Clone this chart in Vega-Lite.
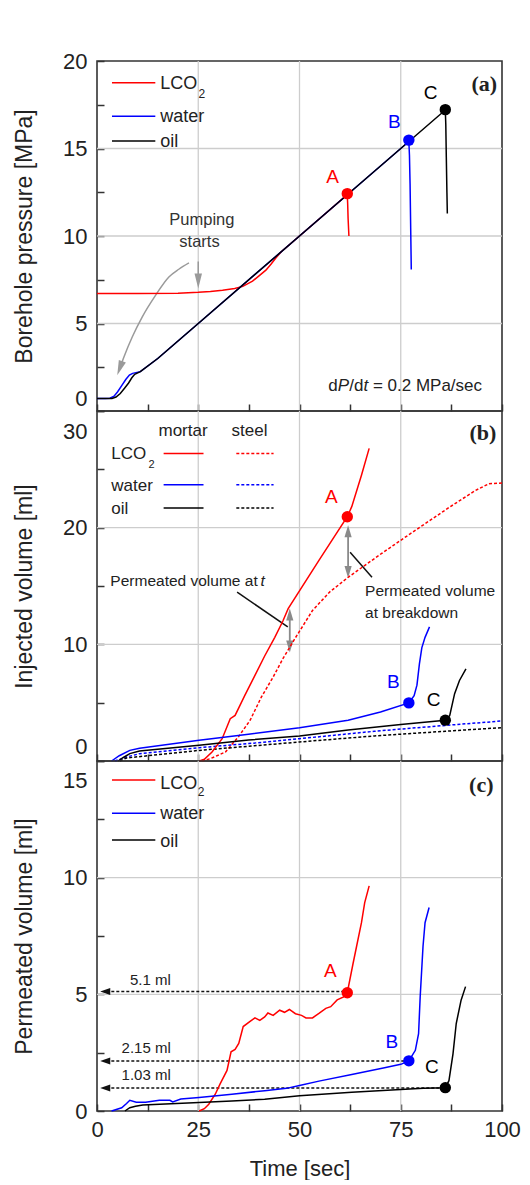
{
  "$schema": "https://vega.github.io/schema/vega-lite/v6.json",
  "padding": {"left": 12, "top": 49, "right": 0, "bottom": 0},
  "spacing": 0,
  "bounds": "flush",
  "config": {
    "font": "Liberation Sans",
    "view": {"stroke": "#333", "strokeWidth": 1.6},
    "axis": {"labelFont": "Liberation Sans", "labelFontSize": 22, "labelColor": "#222", "titleFont": "Liberation Sans", "titleFontWeight": "normal", "titleColor": "#222", "domain": false, "grid": false, "zindex": 1, "tickColor": "#333", "tickWidth": 1.5, "labelFlush": false, "labelOverlap": false}
  },
  "datasets": {
    "a_grid": [
      {"t":25,"t2":25,"v":0,"v2":20},{"t":50,"t2":50,"v":0,"v2":20},{"t":75,"t2":75,"v":0,"v2":20},
      {"t":0,"t2":100,"v":5,"v2":5},{"t":0,"t2":100,"v":10,"v2":10},{"t":0,"t2":100,"v":15,"v2":15}
    ],
    "b_grid": [
      {"t":25,"t2":25,"v":0,"v2":30},{"t":50,"t2":50,"v":0,"v2":30},{"t":75,"t2":75,"v":0,"v2":30},
      {"t":0,"t2":100,"v":10,"v2":10},{"t":0,"t2":100,"v":20,"v2":20}
    ],
    "c_grid": [
      {"t":25,"t2":25,"v":0,"v2":15},{"t":50,"t2":50,"v":0,"v2":15},{"t":75,"t2":75,"v":0,"v2":15},
      {"t":0,"t2":100,"v":5,"v2":5},{"t":0,"t2":100,"v":10,"v2":10}
    ],
    "a_line": [
      {"f":"LCO2","t":0,"v":6.71},{"f":"LCO2","t":10,"v":6.71},{"f":"LCO2","t":20,"v":6.73},{"f":"LCO2","t":25,"v":6.78},{"f":"LCO2","t":28,"v":6.83},{"f":"LCO2","t":31,"v":6.9},{"f":"LCO2","t":34,"v":7.0},{"f":"LCO2","t":36,"v":7.12},{"f":"LCO2","t":38.4,"v":7.42},{"f":"LCO2","t":40,"v":7.72},{"f":"LCO2","t":41.7,"v":8.05},{"f":"LCO2","t":43,"v":8.4},{"f":"LCO2","t":44.2,"v":8.76},{"f":"LCO2","t":45.5,"v":9.1},{"f":"LCO2","t":47,"v":9.4},{"f":"LCO2","t":50,"v":10.0},{"f":"LCO2","t":55,"v":11.0},{"f":"LCO2","t":61.8,"v":12.36},{"f":"LCO2","t":61.9,"v":11.8},{"f":"LCO2","t":62.0,"v":11.0},{"f":"LCO2","t":62.2,"v":10.0},
      {"f":"water","t":0,"v":0.71},{"f":"water","t":2,"v":0.71},{"f":"water","t":3.2,"v":0.73},{"f":"water","t":4.2,"v":0.85},{"f":"water","t":5.1,"v":1.1},{"f":"water","t":6.1,"v":1.45},{"f":"water","t":7.1,"v":1.8},{"f":"water","t":8.0,"v":2.05},{"f":"water","t":8.8,"v":2.15},{"f":"water","t":10.7,"v":2.25},{"f":"water","t":15,"v":3.0},{"f":"water","t":25,"v":5.0},{"f":"water","t":50,"v":10.0},{"f":"water","t":77.0,"v":15.4},{"f":"water","t":77.15,"v":14.6},{"f":"water","t":77.3,"v":13.0},{"f":"water","t":77.45,"v":10.5},{"f":"water","t":77.6,"v":8.08},
      {"f":"oil","t":0,"v":0.71},{"f":"oil","t":3.7,"v":0.72},{"f":"oil","t":4.7,"v":0.8},{"f":"oil","t":5.75,"v":1.0},{"f":"oil","t":6.8,"v":1.3},{"f":"oil","t":7.8,"v":1.6},{"f":"oil","t":8.6,"v":1.9},{"f":"oil","t":9.3,"v":2.1},{"f":"oil","t":10.7,"v":2.25},{"f":"oil","t":15,"v":3.0},{"f":"oil","t":25,"v":5.0},{"f":"oil","t":50,"v":10.0},{"f":"oil","t":86.0,"v":17.2},{"f":"oil","t":86.12,"v":16.4},{"f":"oil","t":86.25,"v":14.5},{"f":"oil","t":86.4,"v":12.5},{"f":"oil","t":86.5,"v":11.28}
    ],
    "a_pts": [
      {"f":"LCO2","t":61.8,"v":12.42},
      {"f":"water","t":77.0,"v":15.48},
      {"f":"oil","t":86.0,"v":17.22}
    ],
    "a_lbl": [
      {"f":"LCO2","t":58.2,"v":13.4,"s":"A"},
      {"f":"water","t":73.4,"v":16.5,"s":"B"},
      {"f":"oil","t":82.4,"v":18.16,"s":"C"}
    ],
    "a_leg": [
      {"f":"LCO2","t":3.7,"t2":14.4,"v":18.76},
      {"f":"water","t":3.7,"t2":14.4,"v":16.84},
      {"f":"oil","t":3.7,"t2":14.4,"v":15.43}
    ],
    "a_txt": [
      {"k":"leg","t":15.6,"v":18.66,"s":"LCO"},
      {"k":"leg","t":15.6,"v":16.8,"s":"water"},
      {"k":"leg","t":15.6,"v":15.37,"s":"oil"},
      {"k":"sub","t":25.9,"v":18.13,"s":"2"},
      {"k":"tag","t":98.8,"v":18.66,"s":"(a)"},
      {"k":"note","t":25.9,"v":10.94,"s":"Pumping"},
      {"k":"note","t":25.3,"v":9.66,"s":"starts"},
      {"k":"dp","t":57.11,"v":1.43,"s":"d"},
      {"k":"dpi","t":59.46,"v":1.43,"s":"P"},
      {"k":"dp","t":62.27,"v":1.43,"s":"/d"},
      {"k":"dpi","t":65.78,"v":1.43,"s":"t"},
      {"k":"dp","t":68.12,"v":1.43,"s":"= 0.2 MPa/sec"}
    ],
    "a_arrow_curve": [
      {"t":22.7,"v":8.46},{"t":20.2,"v":8.1},{"t":17.75,"v":7.66},{"t":14.45,"v":6.61},{"t":11.15,"v":5.37},{"t":8.7,"v":4.23},{"t":6.65,"v":3.09},{"t":5.63,"v":2.44}
    ],
    "a_arrow_straight": [{"t":25,"v":8.55,"v2":7.45}],
    "a_head_down": [{"t":25,"v":7.43}],
    "a_head_curve": [{"t":5.63,"v":2.44}],
    "b_line": [
      {"f":"LCO2","m":"steel","t":25.9,"v":0},{"f":"LCO2","m":"steel","t":28,"v":0.2},{"f":"LCO2","m":"steel","t":31.7,"v":0.77},{"f":"LCO2","m":"steel","t":34.9,"v":2.06},{"f":"LCO2","m":"steel","t":37.8,"v":3.49},{"f":"LCO2","m":"steel","t":40.6,"v":5.49},{"f":"LCO2","m":"steel","t":43.5,"v":7.2},{"f":"LCO2","m":"steel","t":45.9,"v":8.77},{"f":"LCO2","m":"steel","t":48.6,"v":10.34},{"f":"LCO2","m":"steel","t":53.2,"v":12.9},{"f":"LCO2","m":"steel","t":57.5,"v":14.5},{"f":"LCO2","m":"steel","t":62.1,"v":15.77},{"f":"LCO2","m":"steel","t":70.2,"v":17.77},{"f":"LCO2","m":"steel","t":77.4,"v":19.49},{"f":"LCO2","m":"steel","t":87.1,"v":21.77},{"f":"LCO2","m":"steel","t":93.5,"v":23.2},{"f":"LCO2","m":"steel","t":96.8,"v":23.77},{"f":"LCO2","m":"steel","t":100,"v":23.83},
      {"f":"water","m":"steel","t":4.4,"v":0},{"f":"water","m":"steel","t":7.3,"v":0.34},{"f":"water","m":"steel","t":10.5,"v":0.63},{"f":"water","m":"steel","t":25.2,"v":1.14},{"f":"water","m":"steel","t":37.4,"v":1.49},{"f":"water","m":"steel","t":50,"v":1.91},{"f":"water","m":"steel","t":68.5,"v":2.55},{"f":"water","m":"steel","t":86,"v":3.05},{"f":"water","m":"steel","t":100,"v":3.43},
      {"f":"oil","m":"steel","t":5.65,"v":0},{"f":"oil","m":"steel","t":7.3,"v":0.26},{"f":"oil","m":"steel","t":25.2,"v":0.91},{"f":"oil","m":"steel","t":37.4,"v":1.26},{"f":"oil","m":"steel","t":50,"v":1.63},{"f":"oil","m":"steel","t":68.5,"v":2.15},{"f":"oil","m":"steel","t":86,"v":2.55},{"f":"oil","m":"steel","t":100,"v":2.86},
      {"f":"LCO2","m":"mortar","t":25.3,"v":0},{"f":"LCO2","m":"mortar","t":26.5,"v":0.15},{"f":"LCO2","m":"mortar","t":28.4,"v":0.77},{"f":"LCO2","m":"mortar","t":30.9,"v":1.91},{"f":"LCO2","m":"mortar","t":32.9,"v":3.63},{"f":"LCO2","m":"mortar","t":34.1,"v":3.91},{"f":"LCO2","m":"mortar","t":36.5,"v":5.63},{"f":"LCO2","m":"mortar","t":39,"v":7.34},{"f":"LCO2","m":"mortar","t":41.4,"v":9.0},{"f":"LCO2","m":"mortar","t":43.9,"v":10.6},{"f":"LCO2","m":"mortar","t":45.9,"v":12.0},{"f":"LCO2","m":"mortar","t":47.2,"v":13.06},{"f":"LCO2","m":"mortar","t":54.8,"v":17.2},{"f":"LCO2","m":"mortar","t":61.8,"v":20.94},{"f":"LCO2","m":"mortar","t":62.9,"v":21.8},{"f":"LCO2","m":"mortar","t":65.3,"v":24.5},{"f":"LCO2","m":"mortar","t":67.2,"v":26.8},
      {"f":"water","m":"mortar","t":3.6,"v":0},{"f":"water","m":"mortar","t":5.5,"v":0.45},{"f":"water","m":"mortar","t":8.1,"v":0.91},{"f":"water","m":"mortar","t":10.5,"v":1.1},{"f":"water","m":"mortar","t":25.2,"v":1.77},{"f":"water","m":"mortar","t":37.4,"v":2.29},{"f":"water","m":"mortar","t":50,"v":2.85},{"f":"water","m":"mortar","t":62,"v":3.5},{"f":"water","m":"mortar","t":70,"v":4.2},{"f":"water","m":"mortar","t":77,"v":4.98},{"f":"water","m":"mortar","t":78.3,"v":5.6},{"f":"water","m":"mortar","t":79.0,"v":6.5},{"f":"water","m":"mortar","t":79.6,"v":8.3},{"f":"water","m":"mortar","t":80.2,"v":9.7},{"f":"water","m":"mortar","t":81.0,"v":10.6},{"f":"water","m":"mortar","t":82.1,"v":11.5},
      {"f":"oil","m":"mortar","t":5.2,"v":0},{"f":"oil","m":"mortar","t":6.5,"v":0.3},{"f":"oil","m":"mortar","t":8.1,"v":0.63},{"f":"oil","m":"mortar","t":10.5,"v":0.86},{"f":"oil","m":"mortar","t":25.2,"v":1.34},{"f":"oil","m":"mortar","t":37.4,"v":1.8},{"f":"oil","m":"mortar","t":50,"v":2.15},{"f":"oil","m":"mortar","t":62,"v":2.65},{"f":"oil","m":"mortar","t":75,"v":3.13},{"f":"oil","m":"mortar","t":86,"v":3.5},{"f":"oil","m":"mortar","t":87.1,"v":3.9},{"f":"oil","m":"mortar","t":88.3,"v":5.77},{"f":"oil","m":"mortar","t":89.5,"v":6.9},{"f":"oil","m":"mortar","t":91.1,"v":7.9}
    ],
    "b_pts": [
      {"f":"LCO2","t":61.8,"v":20.94},
      {"f":"water","t":77.0,"v":4.98},
      {"f":"oil","t":86.0,"v":3.5}
    ],
    "b_lbl": [
      {"f":"LCO2","t":57.85,"v":22.6,"s":"A"},
      {"f":"water","t":73.2,"v":6.78,"s":"B"},
      {"f":"oil","t":83.1,"v":5.2,"s":"C"}
    ],
    "b_leg": [
      {"f":"LCO2","m":"mortar","t":16.45,"t2":26.3,"v":26.35},
      {"f":"water","m":"mortar","t":16.45,"t2":26.3,"v":23.68},
      {"f":"oil","m":"mortar","t":16.45,"t2":26.3,"v":21.68},
      {"f":"LCO2","m":"steel","t":34.4,"t2":43.6,"v":26.35},
      {"f":"water","m":"steel","t":34.4,"t2":43.6,"v":23.68},
      {"f":"oil","m":"steel","t":34.4,"t2":43.6,"v":21.68}
    ],
    "b_txt": [
      {"k":"hdr","t":21.25,"v":28.29,"s":"mortar"},
      {"k":"hdr","t":37.65,"v":28.29,"s":"steel"},
      {"k":"leg","t":3.53,"v":26.3,"s":"LCO"},
      {"k":"leg","t":3.53,"v":23.59,"s":"water"},
      {"k":"leg","t":3.53,"v":21.6,"s":"oil"},
      {"k":"sub","t":13.5,"v":25.38,"s":"2"},
      {"k":"tag","t":98.6,"v":28.15,"s":"(b)"},
      {"k":"ann","t":3.3,"v":15.4,"s":"Permeated volume at"},
      {"k":"anni","t":40.4,"v":15.4,"s":"t"},
      {"k":"ann","t":66.2,"v":14.57,"s":"Permeated volume"},
      {"k":"ann","t":66.2,"v":12.71,"s":"at breakdown"}
    ],
    "b_shaft": [{"t":62.0,"v":19.69,"v2":16.21},{"t":47.6,"v":12.55,"v2":9.81}],
    "b_up": [{"t":62.0,"v":19.69},{"t":47.6,"v":12.55}],
    "b_down": [{"t":62.0,"v":16.21},{"t":47.6,"v":9.81}],
    "b_leader": [{"t":34.6,"v":14.47,"t2":47.1,"v2":11.5},{"t":62.5,"v":17.9,"t2":67.9,"v2":15.75}],
    "c_line": [
      {"f":"LCO2","t":25.2,"v":0},{"f":"LCO2","t":26.5,"v":0.1},{"f":"LCO2","t":27.6,"v":0.29},{"f":"LCO2","t":29.2,"v":0.72},{"f":"LCO2","t":30.4,"v":1.16},{"f":"LCO2","t":32.1,"v":1.74},{"f":"LCO2","t":33.1,"v":2.54},{"f":"LCO2","t":34.1,"v":2.64},{"f":"LCO2","t":35,"v":2.9},{"f":"LCO2","t":36.1,"v":3.62},{"f":"LCO2","t":37.8,"v":3.84},{"f":"LCO2","t":39,"v":3.99},{"f":"LCO2","t":40.2,"v":3.88},{"f":"LCO2","t":41.4,"v":4.03},{"f":"LCO2","t":42.2,"v":4.2},{"f":"LCO2","t":43.5,"v":4.1},{"f":"LCO2","t":45.1,"v":4.32},{"f":"LCO2","t":46.3,"v":4.23},{"f":"LCO2","t":47.5,"v":4.35},{"f":"LCO2","t":49,"v":4.17},{"f":"LCO2","t":50.5,"v":4.1},{"f":"LCO2","t":51.6,"v":3.99},{"f":"LCO2","t":53.2,"v":3.99},{"f":"LCO2","t":54.8,"v":4.18},{"f":"LCO2","t":56.5,"v":4.4},{"f":"LCO2","t":57.7,"v":4.47},{"f":"LCO2","t":59.3,"v":4.76},{"f":"LCO2","t":60.9,"v":4.89},{"f":"LCO2","t":61.8,"v":5.07},{"f":"LCO2","t":63.2,"v":6.3},{"f":"LCO2","t":64.1,"v":7.06},{"f":"LCO2","t":65.3,"v":8.07},{"f":"LCO2","t":66.1,"v":8.93},{"f":"LCO2","t":67.2,"v":9.65},
      {"f":"water","t":3.6,"v":0},{"f":"water","t":6.1,"v":0.14},{"f":"water","t":7.3,"v":0.32},{"f":"water","t":8.1,"v":0.46},{"f":"water","t":9.7,"v":0.38},{"f":"water","t":12,"v":0.38},{"f":"water","t":15.4,"v":0.46},{"f":"water","t":18,"v":0.46},{"f":"water","t":18.7,"v":0.39},{"f":"water","t":20.7,"v":0.51},{"f":"water","t":25.2,"v":0.58},{"f":"water","t":33.3,"v":0.72},{"f":"water","t":41.4,"v":0.87},{"f":"water","t":46.8,"v":0.97},{"f":"water","t":50,"v":1.09},{"f":"water","t":54.8,"v":1.28},{"f":"water","t":62.9,"v":1.56},{"f":"water","t":71,"v":1.85},{"f":"water","t":75,"v":2.0},{"f":"water","t":77,"v":2.15},{"f":"water","t":78.6,"v":2.6},{"f":"water","t":79.4,"v":3.31},{"f":"water","t":79.8,"v":4.9},{"f":"water","t":80.5,"v":7.06},{"f":"water","t":81,"v":8.07},{"f":"water","t":82,"v":8.72},
      {"f":"oil","t":6.9,"v":0},{"f":"oil","t":8.1,"v":0.14},{"f":"oil","t":9.5,"v":0.2},{"f":"oil","t":11.3,"v":0.26},{"f":"oil","t":25.2,"v":0.36},{"f":"oil","t":33.3,"v":0.43},{"f":"oil","t":41.4,"v":0.5},{"f":"oil","t":50,"v":0.65},{"f":"oil","t":62.9,"v":0.8},{"f":"oil","t":75,"v":0.92},{"f":"oil","t":80.6,"v":0.97},{"f":"oil","t":86,"v":1.0},{"f":"oil","t":86.9,"v":1.3},{"f":"oil","t":87.9,"v":2.45},{"f":"oil","t":88.7,"v":3.75},{"f":"oil","t":89.9,"v":4.75},{"f":"oil","t":91,"v":5.33}
    ],
    "c_pts": [
      {"f":"LCO2","t":61.8,"v":5.07},
      {"f":"water","t":77.0,"v":2.15},
      {"f":"oil","t":86.0,"v":1.0}
    ],
    "c_lbl": [
      {"f":"LCO2","t":57.6,"v":6.0,"s":"A"},
      {"f":"water","t":72.8,"v":2.96,"s":"B"},
      {"f":"oil","t":82.7,"v":1.89,"s":"C"}
    ],
    "c_ref": [
      {"t":2.3,"t2":61.8,"v":5.12},
      {"t":2.3,"t2":77.0,"v":2.14},
      {"t":2.3,"t2":86.0,"v":0.99}
    ],
    "c_head": [{"t":2.03,"v":5.12},{"t":2.03,"v":2.14},{"t":2.03,"v":0.99}],
    "c_leg": [
      {"f":"LCO2","t":3.7,"t2":14.4,"v":14.19},
      {"f":"water","t":3.7,"t2":14.4,"v":12.76},
      {"f":"oil","t":3.7,"t2":14.4,"v":11.61}
    ],
    "c_txt": [
      {"k":"leg","t":15.6,"v":14.02,"s":"LCO"},
      {"k":"leg","t":15.6,"v":12.73,"s":"water"},
      {"k":"leg","t":15.6,"v":11.54,"s":"oil"},
      {"k":"sub","t":25.7,"v":13.69,"s":"2"},
      {"k":"tag","t":97.9,"v":13.97,"s":"(c)"},
      {"k":"ml","t":13.16,"v":5.61,"s":"5.1 ml"},
      {"k":"ml","t":12.13,"v":2.68,"s":"2.15 ml"},
      {"k":"ml","t":12.13,"v":1.53,"s":"1.03 ml"}
    ]
  },
  "vconcat": [
    {
      "width": 405, "height": 350,
      "encoding": {
        "x": {"field": "t", "type": "quantitative", "scale": {"domain": [0, 100], "nice": false, "zero": false},
              "axis": {"values": [0,12.5,25,37.5,50,62.5,75,87.5,100], "labels": false, "title": null, "tickSize": -7}},
        "y": {"field": "v", "type": "quantitative", "scale": {"domain": [0, 20], "nice": false, "zero": false},
              "axis": {"values": [0,2.5,5,7.5,10,12.5,15,17.5,20], "labelExpr": "datum.value % 5 == 0 ? datum.label : ''",
                       "title": "Borehole pressure [MPa]", "titleFontSize": 23, "titlePadding": 26, "labelPadding": 17, "tickSize": -7,
                       "labelOffset": {"condition": {"test": "datum.value == 0", "value": -13}, "value": 0}}}
      },
      "layer": [
        {"data": {"name": "a_grid"}, "mark": {"type": "rule", "color": "#cdcdcd", "strokeWidth": 1.3}, "encoding": {"x2": {"field": "t2"}, "y2": {"field": "v2"}}},
        {"data": {"name": "a_arrow_curve"}, "mark": {"type": "line", "color": "#9a9a9a", "strokeWidth": 1.5, "interpolate": "monotone"}},
        {"data": {"name": "a_arrow_straight"}, "mark": {"type": "rule", "color": "#9a9a9a", "strokeWidth": 1.5}, "encoding": {"y2": {"field": "v2"}}},
        {"data": {"name": "a_head_down"}, "mark": {"type": "point", "shape": "M-0.5,-1L0.5,-1L0,1Z", "filled": true, "size": 225, "color": "#9a9a9a", "opacity": 1, "strokeWidth": 0}},
        {"data": {"name": "a_head_curve"}, "mark": {"type": "point", "shape": "M-0.5,-1L0.5,-1L0,1Z", "filled": true, "size": 225, "color": "#9a9a9a", "opacity": 1, "strokeWidth": 0, "angle": 20}},
        {"data": {"name": "a_line"}, "transform": [{"filter": "datum.f == 'LCO2'"}], "mark": {"type": "line", "strokeWidth": 1.5},
         "encoding": {"color": {"field": "f", "type": "nominal", "scale": {"domain": ["LCO2","water","oil"], "range": ["#ff0000","#0000ff","#000000"]}, "legend": null}}},
        {"data": {"name": "a_line"}, "transform": [{"filter": "datum.f == 'water'"}], "mark": {"type": "line", "strokeWidth": 1.5},
         "encoding": {"color": {"field": "f", "type": "nominal", "legend": null}}},
        {"data": {"name": "a_line"}, "transform": [{"filter": "datum.f == 'oil'"}], "mark": {"type": "line", "strokeWidth": 1.5},
         "encoding": {"color": {"field": "f", "type": "nominal", "legend": null}}},
        {"data": {"name": "a_pts"}, "mark": {"type": "point", "filled": true, "size": 130, "opacity": 1, "strokeWidth": 0},
         "encoding": {"color": {"field": "f", "type": "nominal", "legend": null}}},
        {"data": {"name": "a_lbl"}, "mark": {"type": "text", "fontSize": 19, "align": "center", "baseline": "middle"},
         "encoding": {"text": {"field": "s"}, "color": {"field": "f", "type": "nominal", "legend": null}}},
        {"data": {"name": "a_leg"}, "mark": {"type": "rule", "strokeWidth": 1.5},
         "encoding": {"x2": {"field": "t2"}, "color": {"field": "f", "type": "nominal", "legend": null}}},
        {"data": {"name": "a_txt"}, "transform": [{"filter": "datum.k == 'leg'"}], "mark": {"type": "text", "fontSize": 18, "align": "left", "baseline": "middle", "color": "#222"}, "encoding": {"text": {"field": "s"}}},
        {"data": {"name": "a_txt"}, "transform": [{"filter": "datum.k == 'sub'"}], "mark": {"type": "text", "fontSize": 12, "align": "center", "baseline": "middle", "color": "#222"}, "encoding": {"text": {"field": "s"}}},
        {"data": {"name": "a_txt"}, "transform": [{"filter": "datum.k == 'tag'"}], "mark": {"type": "text", "font": "Liberation Serif", "fontWeight": "bold", "fontSize": 22, "align": "right", "baseline": "middle", "color": "#222"}, "encoding": {"text": {"field": "s"}}},
        {"data": {"name": "a_txt"}, "transform": [{"filter": "datum.k == 'note'"}], "mark": {"type": "text", "fontSize": 16.5, "align": "center", "baseline": "middle", "color": "#333"}, "encoding": {"text": {"field": "s"}}},
        {"data": {"name": "a_txt"}, "transform": [{"filter": "datum.k == 'dp'"}], "mark": {"type": "text", "fontSize": 17, "align": "left", "baseline": "middle", "color": "#222"}, "encoding": {"text": {"field": "s"}}},
        {"data": {"name": "a_txt"}, "transform": [{"filter": "datum.k == 'dpi'"}], "mark": {"type": "text", "fontSize": 17, "fontStyle": "italic", "align": "left", "baseline": "middle", "color": "#222"}, "encoding": {"text": {"field": "s"}}}
      ]
    },
    {
      "width": 405, "height": 350,
      "encoding": {
        "x": {"field": "t", "type": "quantitative", "scale": {"domain": [0, 100], "nice": false, "zero": false},
              "axis": {"values": [0,12.5,25,37.5,50,62.5,75,87.5,100], "labels": false, "title": null, "tickSize": -7}},
        "y": {"field": "v", "type": "quantitative", "scale": {"domain": [0, 30], "nice": false, "zero": false},
              "axis": {"values": [0,5,10,15,20,25,30], "labelExpr": "datum.value % 10 == 0 ? datum.label : ''",
                       "title": "Injected volume [ml]", "titleFontSize": 23, "titlePadding": 26, "labelPadding": 17, "tickSize": -7,
                       "labelOffset": {"condition": [{"test": "datum.value == 0", "value": -15}, {"test": "datum.value == 30", "value": 20}], "value": 0}}}
      },
      "layer": [
        {"data": {"name": "b_grid"}, "mark": {"type": "rule", "color": "#cdcdcd", "strokeWidth": 1.3}, "encoding": {"x2": {"field": "t2"}, "y2": {"field": "v2"}}},
        {"data": {"name": "b_shaft"}, "mark": {"type": "rule", "color": "#8a8a8a", "strokeWidth": 1.8}, "encoding": {"y2": {"field": "v2"}}},
        {"data": {"name": "b_up"}, "mark": {"type": "point", "shape": "M-0.6,1L0.6,1L0,-1Z", "filled": true, "size": 144, "color": "#8a8a8a", "opacity": 1, "strokeWidth": 0}},
        {"data": {"name": "b_down"}, "mark": {"type": "point", "shape": "M-0.6,-1L0.6,-1L0,1Z", "filled": true, "size": 144, "color": "#8a8a8a", "opacity": 1, "strokeWidth": 0}},
        {"data": {"name": "b_leader"}, "mark": {"type": "rule", "color": "#111", "strokeWidth": 1.5}, "encoding": {"x2": {"field": "t2"}, "y2": {"field": "v2"}}},
        {"data": {"name": "b_line"}, "transform": [{"filter": "datum.m == 'steel' && datum.f == 'LCO2'"}], "mark": {"type": "line", "strokeWidth": 1.5, "strokeDash": [3, 2]},
         "encoding": {"color": {"field": "f", "type": "nominal", "scale": {"domain": ["LCO2","water","oil"], "range": ["#ff0000","#0000ff","#000000"]}, "legend": null}}},
        {"data": {"name": "b_line"}, "transform": [{"filter": "datum.m == 'steel' && datum.f == 'water'"}], "mark": {"type": "line", "strokeWidth": 1.5, "strokeDash": [3, 2]},
         "encoding": {"color": {"field": "f", "type": "nominal", "legend": null}}},
        {"data": {"name": "b_line"}, "transform": [{"filter": "datum.m == 'steel' && datum.f == 'oil'"}], "mark": {"type": "line", "strokeWidth": 1.5, "strokeDash": [3, 2]},
         "encoding": {"color": {"field": "f", "type": "nominal", "legend": null}}},
        {"data": {"name": "b_line"}, "transform": [{"filter": "datum.m == 'mortar' && datum.f == 'LCO2'"}], "mark": {"type": "line", "strokeWidth": 1.5},
         "encoding": {"color": {"field": "f", "type": "nominal", "legend": null}}},
        {"data": {"name": "b_line"}, "transform": [{"filter": "datum.m == 'mortar' && datum.f == 'water'"}], "mark": {"type": "line", "strokeWidth": 1.5},
         "encoding": {"color": {"field": "f", "type": "nominal", "legend": null}}},
        {"data": {"name": "b_line"}, "transform": [{"filter": "datum.m == 'mortar' && datum.f == 'oil'"}], "mark": {"type": "line", "strokeWidth": 1.5},
         "encoding": {"color": {"field": "f", "type": "nominal", "legend": null}}},
        {"data": {"name": "b_pts"}, "mark": {"type": "point", "filled": true, "size": 130, "opacity": 1, "strokeWidth": 0},
         "encoding": {"color": {"field": "f", "type": "nominal", "legend": null}}},
        {"data": {"name": "b_lbl"}, "mark": {"type": "text", "fontSize": 19, "align": "center", "baseline": "middle"},
         "encoding": {"text": {"field": "s"}, "color": {"field": "f", "type": "nominal", "legend": null}}},
        {"data": {"name": "b_leg"}, "transform": [{"filter": "datum.m == 'mortar'"}], "mark": {"type": "rule", "strokeWidth": 1.5},
         "encoding": {"x2": {"field": "t2"}, "color": {"field": "f", "type": "nominal", "legend": null}}},
        {"data": {"name": "b_leg"}, "transform": [{"filter": "datum.m == 'steel'"}], "mark": {"type": "rule", "strokeWidth": 1.5, "strokeDash": [3, 2]},
         "encoding": {"x2": {"field": "t2"}, "color": {"field": "f", "type": "nominal", "legend": null}}},
        {"data": {"name": "b_txt"}, "transform": [{"filter": "datum.k == 'hdr'"}], "mark": {"type": "text", "fontSize": 17, "align": "center", "baseline": "middle", "color": "#222"}, "encoding": {"text": {"field": "s"}}},
        {"data": {"name": "b_txt"}, "transform": [{"filter": "datum.k == 'leg'"}], "mark": {"type": "text", "fontSize": 17, "align": "left", "baseline": "middle", "color": "#222"}, "encoding": {"text": {"field": "s"}}},
        {"data": {"name": "b_txt"}, "transform": [{"filter": "datum.k == 'sub'"}], "mark": {"type": "text", "fontSize": 11, "align": "center", "baseline": "middle", "color": "#222"}, "encoding": {"text": {"field": "s"}}},
        {"data": {"name": "b_txt"}, "transform": [{"filter": "datum.k == 'tag'"}], "mark": {"type": "text", "font": "Liberation Serif", "fontWeight": "bold", "fontSize": 22, "align": "right", "baseline": "middle", "color": "#222"}, "encoding": {"text": {"field": "s"}}},
        {"data": {"name": "b_txt"}, "transform": [{"filter": "datum.k == 'ann'"}], "mark": {"type": "text", "fontSize": 15.5, "align": "left", "baseline": "middle", "color": "#222"}, "encoding": {"text": {"field": "s"}}},
        {"data": {"name": "b_txt"}, "transform": [{"filter": "datum.k == 'anni'"}], "mark": {"type": "text", "fontSize": 15.5, "fontStyle": "italic", "align": "left", "baseline": "middle", "color": "#222"}, "encoding": {"text": {"field": "s"}}}
      ]
    },
    {
      "width": 405, "height": 350,
      "encoding": {
        "x": {"field": "t", "type": "quantitative", "scale": {"domain": [0, 100], "nice": false, "zero": false},
              "axis": {"values": [0,12.5,25,37.5,50,62.5,75,87.5,100], "labelExpr": "datum.value % 25 == 0 ? datum.label : ''",
                       "title": "Time [sec]", "titleFontSize": 22, "titlePadding": 18, "labelPadding": 15, "tickSize": -7}},
        "y": {"field": "v", "type": "quantitative", "scale": {"domain": [0, 15], "nice": false, "zero": false},
              "axis": {"values": [0,2.5,5,7.5,10,12.5,15], "labelExpr": "datum.value % 5 == 0 ? datum.label : ''",
                       "title": "Permeated volume [ml]", "titleFontSize": 23, "titlePadding": 26, "labelPadding": 17, "tickSize": -7,
                       "labelOffset": {"condition": {"test": "datum.value == 15", "value": 19}, "value": 0}}}
      },
      "layer": [
        {"data": {"name": "c_grid"}, "mark": {"type": "rule", "color": "#cdcdcd", "strokeWidth": 1.3}, "encoding": {"x2": {"field": "t2"}, "y2": {"field": "v2"}}},
        {"data": {"name": "c_ref"}, "mark": {"type": "rule", "color": "#111", "strokeWidth": 1.5, "strokeDash": [3, 2]}, "encoding": {"x2": {"field": "t2"}}},
        {"data": {"name": "c_head"}, "mark": {"type": "point", "shape": "M1,-0.7L1,0.7L-1,0Z", "filled": true, "size": 100, "color": "#111", "opacity": 1, "strokeWidth": 0}},
        {"data": {"name": "c_line"}, "transform": [{"filter": "datum.f == 'LCO2'"}], "mark": {"type": "line", "strokeWidth": 1.5},
         "encoding": {"color": {"field": "f", "type": "nominal", "scale": {"domain": ["LCO2","water","oil"], "range": ["#ff0000","#0000ff","#000000"]}, "legend": null}}},
        {"data": {"name": "c_line"}, "transform": [{"filter": "datum.f == 'water'"}], "mark": {"type": "line", "strokeWidth": 1.5},
         "encoding": {"color": {"field": "f", "type": "nominal", "legend": null}}},
        {"data": {"name": "c_line"}, "transform": [{"filter": "datum.f == 'oil'"}], "mark": {"type": "line", "strokeWidth": 1.5},
         "encoding": {"color": {"field": "f", "type": "nominal", "legend": null}}},
        {"data": {"name": "c_pts"}, "mark": {"type": "point", "filled": true, "size": 130, "opacity": 1, "strokeWidth": 0},
         "encoding": {"color": {"field": "f", "type": "nominal", "legend": null}}},
        {"data": {"name": "c_lbl"}, "mark": {"type": "text", "fontSize": 19, "align": "center", "baseline": "middle"},
         "encoding": {"text": {"field": "s"}, "color": {"field": "f", "type": "nominal", "legend": null}}},
        {"data": {"name": "c_leg"}, "mark": {"type": "rule", "strokeWidth": 1.5},
         "encoding": {"x2": {"field": "t2"}, "color": {"field": "f", "type": "nominal", "legend": null}}},
        {"data": {"name": "c_txt"}, "transform": [{"filter": "datum.k == 'leg'"}], "mark": {"type": "text", "fontSize": 18, "align": "left", "baseline": "middle", "color": "#222"}, "encoding": {"text": {"field": "s"}}},
        {"data": {"name": "c_txt"}, "transform": [{"filter": "datum.k == 'sub'"}], "mark": {"type": "text", "fontSize": 12, "align": "center", "baseline": "middle", "color": "#222"}, "encoding": {"text": {"field": "s"}}},
        {"data": {"name": "c_txt"}, "transform": [{"filter": "datum.k == 'tag'"}], "mark": {"type": "text", "font": "Liberation Serif", "fontWeight": "bold", "fontSize": 22, "align": "right", "baseline": "middle", "color": "#222"}, "encoding": {"text": {"field": "s"}}},
        {"data": {"name": "c_txt"}, "transform": [{"filter": "datum.k == 'ml'"}], "mark": {"type": "text", "fontSize": 15, "align": "center", "baseline": "middle", "color": "#222"}, "encoding": {"text": {"field": "s"}}}
      ]
    }
  ]
}
